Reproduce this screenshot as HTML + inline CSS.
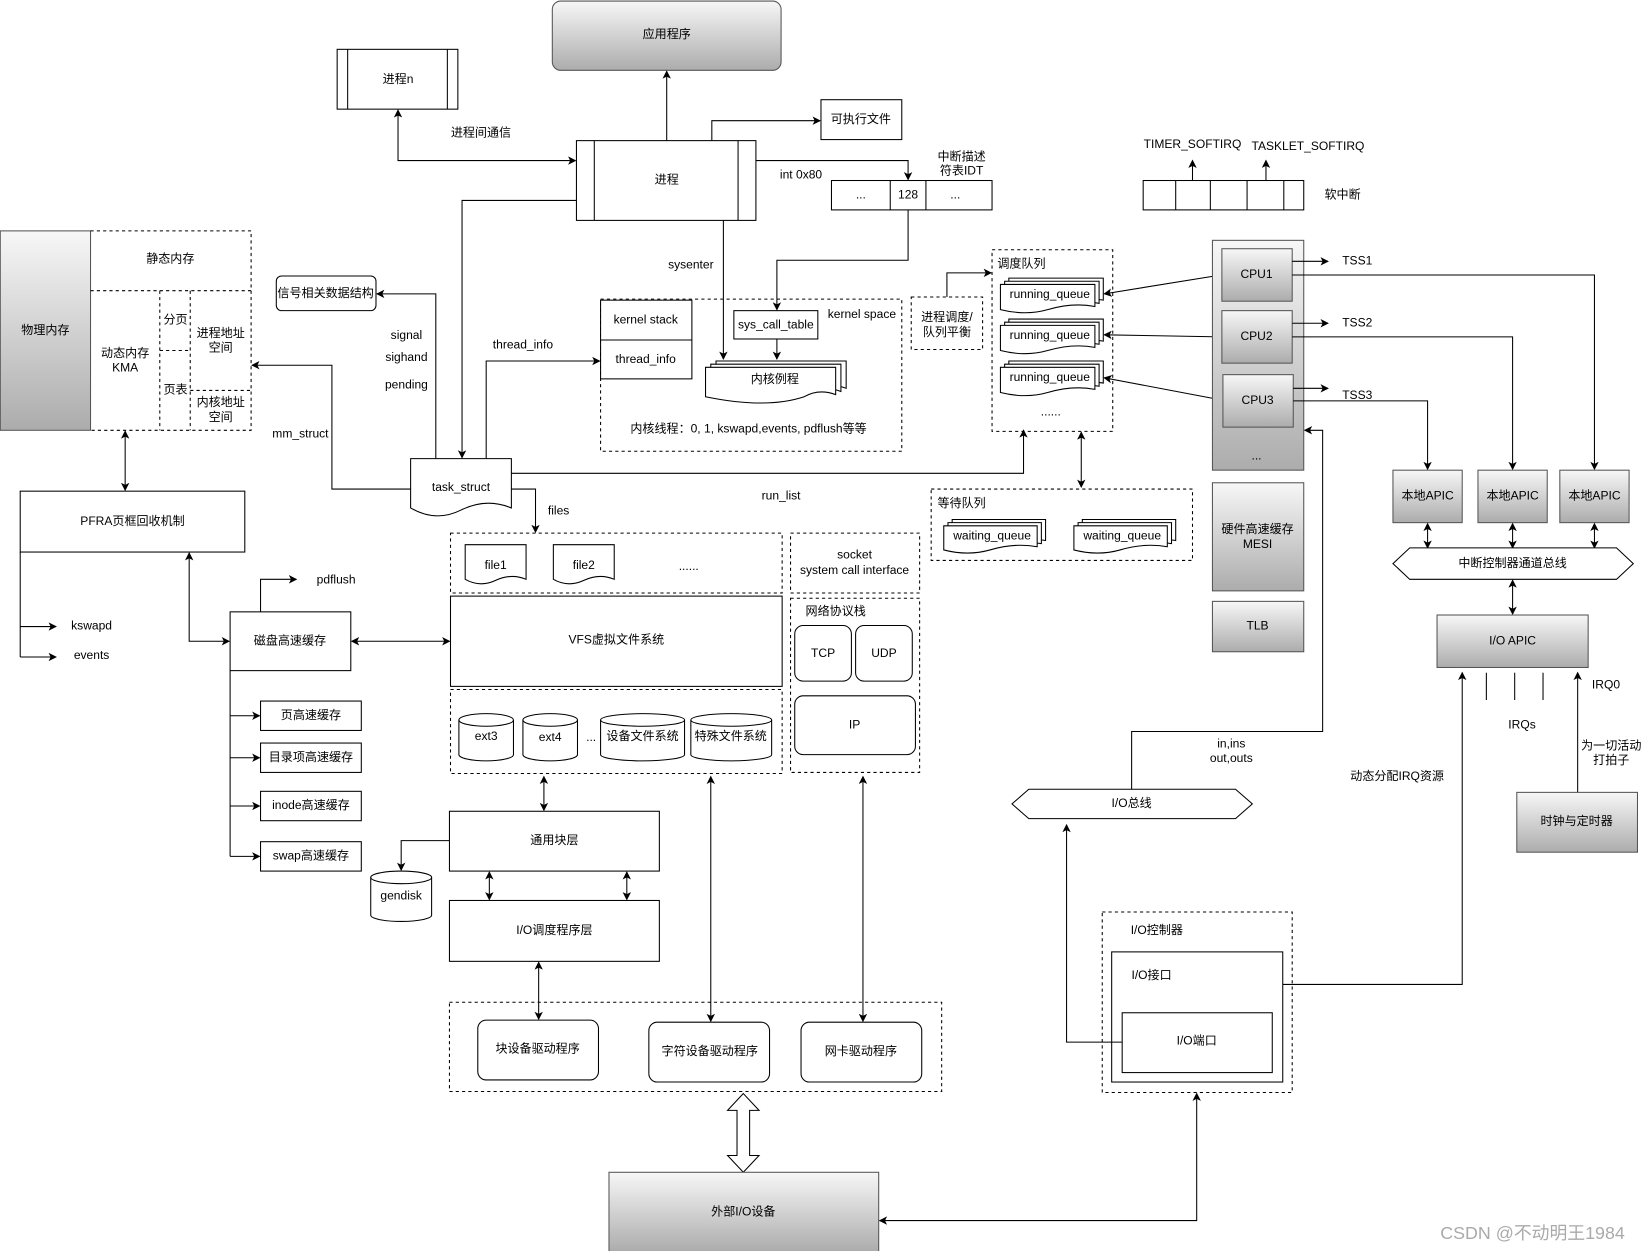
<!DOCTYPE html>
<html><head><meta charset="utf-8"><style>
html,body{margin:0;padding:0;background:#fff;}
svg{display:block;}
text{font-family:"Liberation Sans","Noto Sans CJK SC",sans-serif;font-size:11.5px;fill:#000;text-anchor:middle;dominant-baseline:middle;}
.b{fill:#fff;stroke:#000;stroke-width:1;}
.g{fill:url(#gr);stroke:#555;stroke-width:1;}
.d{fill:none;stroke:#000;stroke-width:1;stroke-dasharray:3 3;}
.l{fill:none;stroke:#000;stroke-width:1;}
.a{fill:none;stroke:#000;stroke-width:1;marker-end:url(#ar);}
.aa{fill:none;stroke:#000;stroke-width:1;marker-end:url(#ar);marker-start:url(#ar);}
</style></head><body>
<svg width="1643" height="1251" viewBox="0 0 1565 1192" xmlns="http://www.w3.org/2000/svg">
<defs>
<linearGradient id="gr" x1="0" y1="0" x2="0" y2="1"><stop offset="0" stop-color="#f7f7f7"/><stop offset="1" stop-color="#acacac"/></linearGradient>
<marker id="ar" markerWidth="8" markerHeight="8" refX="7" refY="4" orient="auto-start-reverse" markerUnits="userSpaceOnUse"><path d="M0,0 L8,4 L0,8 L2,4 Z" fill="#000"/></marker>
</defs>

<!-- top -->
<rect class="g" x="526" y="1" width="218" height="66" rx="8"/><text x="635" y="33">应用程序</text>
<rect class="b" x="321" y="47" width="115" height="57"/><line class="l" x1="331" y1="47" x2="331" y2="104"/><line class="l" x1="426" y1="47" x2="426" y2="104"/><text x="379" y="76">进程n</text>
<rect class="b" x="549" y="134" width="171" height="76"/><line class="l" x1="566" y1="134" x2="566" y2="210"/><line class="l" x1="703" y1="134" x2="703" y2="210"/><text x="635" y="172">进程</text>
<path class="a" d="M635,134 V68"/>
<rect class="b" x="782" y="95" width="77" height="38"/><text x="820" y="114">可执行文件</text>
<path class="a" d="M678,134 V115 H781"/>
<text x="458" y="127">进程间通信</text>
<path class="aa" d="M379,105 V153 H548"/>
<text x="763" y="167">int 0x80</text>
<path class="a" d="M720,153 H865 V171"/>
<text x="916" y="150">中断描述</text><text x="916" y="163">符表IDT</text>
<rect class="b" x="792" y="172" width="153" height="28"/><line class="l" x1="848" y1="172" x2="848" y2="200"/><line class="l" x1="882" y1="172" x2="882" y2="200"/>
<text x="820" y="186">...</text><text x="865" y="186">128</text><text x="910" y="186">...</text>
<path class="a" d="M865,200 V248 H740 V295"/>
<text x="658" y="253">sysenter</text>
<path class="a" d="M689,210 V342"/>

<!-- kernel space -->
<path class="d" d="M572,285 H859 V430 H572 Z"/>
<rect class="b" x="572" y="286" width="87" height="75"/><line class="l" x1="572" y1="324" x2="659" y2="324"/>
<text x="615" y="305">kernel stack</text><text x="615" y="343">thread_info</text>
<rect class="b" x="699" y="296" width="80" height="27"/><text x="739" y="310">sys_call_table</text>
<text x="821" y="300">kernel space</text>
<path class="a" d="M740,323 V342"/>
<g class="b">
<path class="b" d="M682,344 H806 V370 Q790,364 776,372 Q740,384 682,372 Z"/>
<path class="b" d="M677,347 H801 V373 Q785,367 771,375 Q735,387 677,375 Z"/>
<path class="b" d="M672,350 H796 V376 Q780,370 766,378 Q730,390 672,378 Z"/>
</g>
<text x="738" y="362">内核例程</text>
<text x="713" y="409">内核线程：0, 1, kswapd,events, pdflush等等</text>

<!-- signals / task_struct -->
<rect class="b" x="263" y="263" width="95" height="33" rx="5"/><text x="310" y="280">信号相关数据结构</text>
<text x="387" y="320">signal</text><text x="387" y="341">sighand</text><text x="387" y="367">pending</text>
<text x="286" y="414">mm_struct</text><text x="498" y="329">thread_info</text>
<path class="b" d="M391,437 H487 V484 Q463,474 439,486 Q415,498 391,484 Z"/>
<text x="439" y="465">task_struct</text>
<path class="a" d="M415,437 V280 H359"/>
<path class="a" d="M549,191 H440 V436"/>
<path class="a" d="M463,437 V344 H571"/>
<path class="a" d="M391,466 H316 V348 H240"/>
<path class="a" d="M487,451 H975 V410"/>
<text x="744" y="473">run_list</text>
<path class="a" d="M487,466 H510 V507"/>
<text x="532" y="487">files</text>

<!-- physical memory -->
<rect x="0" y="220" width="86" height="190" fill="url(#gr)" stroke="#555"/>
<text x="43" y="315">物理内存</text>
<path class="d" d="M86,220 H239 V410 H86"/>
<line class="d" x1="86" y1="277" x2="239" y2="277"/>
<text x="162" y="247">静态内存</text>
<text x="119" y="337">动态内存</text><text x="119" y="351">KMA</text>
<line class="d" x1="152" y1="277" x2="152" y2="410"/>
<line class="d" x1="181" y1="277" x2="181" y2="410"/>
<line class="d" x1="152" y1="334" x2="181" y2="334"/>
<text x="167" y="305">分页</text><text x="167" y="372">页表</text>
<line class="d" x1="181" y1="372" x2="239" y2="372"/>
<text x="210" y="318">进程地址</text><text x="210" y="332">空间</text>
<text x="210" y="384">内核地址</text><text x="210" y="398">空间</text>
<path class="aa" d="M119,411 V467"/>
<rect class="b" x="19" y="468" width="214" height="58"/><text x="126" y="497">PFRA页框回收机制</text>
<path class="l" d="M19,526 V626"/>
<path class="a" d="M19,597 H53"/><path class="a" d="M19,626 H53"/>
<text x="87" y="597">kswapd</text><text x="87" y="625">events</text>

<!-- disk cache -->
<rect class="b" x="219" y="583" width="115" height="56"/><text x="276" y="611">磁盘高速缓存</text>
<path class="a" d="M248,583 V552 H282"/><text x="320" y="553">pdflush</text>
<path class="aa" d="M180,527 V611 H218"/>
<path class="aa" d="M335,611 H428"/>
<path class="l" d="M219,639 V816"/>
<path class="a" d="M219,682 H247"/><path class="a" d="M219,722 H247"/><path class="a" d="M219,768 H247"/><path class="a" d="M219,816 H247"/>
<rect class="b" x="248" y="668" width="96" height="28"/><text x="296" y="682">页高速缓存</text>
<rect class="b" x="248" y="708" width="96" height="28"/><text x="296" y="722">目录项高速缓存</text>
<rect class="b" x="248" y="754" width="96" height="28"/><text x="296" y="768">inode高速缓存</text>
<rect class="b" x="248" y="802" width="96" height="28"/><text x="296" y="816">swap高速缓存</text>

<!-- files / vfs -->
<path class="d" d="M429,508 H745 V565 H429 Z"/>
<path class="b" d="M443,519 H501 V552 Q487,546 472,553 Q457,560 443,552 Z"/><text x="472" y="539">file1</text>
<path class="b" d="M527,519 H585 V552 Q571,546 556,553 Q541,560 527,552 Z"/><text x="556" y="539">file2</text>
<text x="656" y="540">......</text>
<rect class="b" x="429" y="568" width="316" height="86"/><text x="587" y="610">VFS虚拟文件系统</text>
<path class="d" d="M429,657 H745 V737 H429 Z"/>
<g>
<path class="b" d="M437,686 A26,6 0 0 1 489,686 V719 A26,6 0 0 1 437,719 Z"/><path class="l" d="M437,686 A26,6 0 0 0 489,686"/>
<path class="b" d="M498,686 A26,6 0 0 1 550,686 V719 A26,6 0 0 1 498,719 Z"/><path class="l" d="M498,686 A26,6 0 0 0 550,686"/>
<path class="b" d="M572,686 A40,6 0 0 1 652,686 V719 A40,6 0 0 1 572,719 Z"/><path class="l" d="M572,686 A40,6 0 0 0 652,686"/>
<path class="b" d="M658,686 A38.5,6 0 0 1 735,686 V719 A38.5,6 0 0 1 658,719 Z"/><path class="l" d="M658,686 A38.5,6 0 0 0 735,686"/>
</g>
<text x="463" y="702">ext3</text><text x="524" y="703">ext4</text><text x="563" y="703">...</text>
<text x="612" y="702">设备文件系统</text><text x="696" y="702">特殊文件系统</text>
<path class="d" d="M753,508 H876 V565 H753 Z"/>
<text x="814" y="529">socket</text><text x="814" y="544">system call interface</text>
<path class="d" d="M753,570 H876 V736 H753 Z"/>
<text x="796" y="583">网络协议栈</text>
<rect class="b" x="757" y="596" width="54" height="53" rx="8"/><text x="784" y="623">TCP</text>
<rect class="b" x="815" y="596" width="54" height="53" rx="8"/><text x="842" y="623">UDP</text>
<rect class="b" x="757" y="663" width="115" height="56" rx="8"/><text x="814" y="691">IP</text>

<!-- block layers -->
<path class="aa" d="M518,740 V772"/>
<rect class="b" x="428" y="773" width="200" height="57"/><text x="528" y="801">通用块层</text>
<path class="b" d="M353,836 A29,6 0 0 1 411,836 V872 A29,6 0 0 1 353,872 Z"/><path class="l" d="M353,836 A29,6 0 0 0 411,836"/>
<text x="382" y="854">gendisk</text>
<path class="a" d="M428,801 H382 V829"/>
<path class="aa" d="M466,831 V857"/><path class="aa" d="M597,831 V857"/>
<rect class="b" x="428" y="858" width="200" height="58"/><text x="528" y="887">I/O调度程序层</text>
<path class="aa" d="M513,917 V971"/>
<path class="d" d="M428,955 H897 V1040 H428 Z"/>
<rect class="b" x="455" y="972" width="115" height="57" rx="8"/><text x="512" y="1000">块设备驱动程序</text>
<rect class="b" x="618" y="974" width="115" height="57" rx="8"/><text x="676" y="1002">字符设备驱动程序</text>
<rect class="b" x="763" y="974" width="115" height="57" rx="8"/><text x="820" y="1002">网卡驱动程序</text>
<path class="aa" d="M677,740 V973"/><path class="aa" d="M822,740 V973"/>
<path class="b" d="M708,1042 L723,1058 H714 V1101 H723 L708,1117 L693,1101 H702 V1058 H693 Z"/>
<rect class="g" x="580" y="1117" width="257" height="76"/><text x="708" y="1155">外部I/O设备</text>
<path class="aa" d="M1140,1042 V1163 H838"/>

<!-- IO controller -->
<path class="d" d="M1050,869 H1231 V1041 H1050 Z"/>
<text x="1102" y="887">I/O控制器</text>
<rect class="b" x="1059" y="907" width="163" height="124"/><text x="1097" y="930">I/O接口</text>
<rect class="b" x="1069" y="965" width="143" height="57"/><text x="1140" y="992">I/O端口</text>
<path class="a" d="M1069,993 H1016 V786"/>
<path class="b" d="M964,766 L980,752 H1177 L1193,766 L1177,780 H980 Z"/><text x="1078" y="766">I/O总线</text>
<path class="a" d="M1078,752 V697 H1260 V410 H1243"/>
<text x="1173" y="709">in,ins</text><text x="1173" y="723">out,outs</text>
<path class="a" d="M1222,938 H1393 V641"/>

<!-- scheduling -->
<path class="d" d="M945,238 H1060 V411 H945 Z"/>
<text x="973" y="252">调度队列</text>
<g>
<path class="b" d="M961,265 H1051 V286 Q1030,282 1006,289 Q985,295 961,289 Z"/>
<path class="b" d="M957,268 H1047 V289 Q1026,285 1002,292 Q981,298 957,292 Z"/>
<path class="b" d="M953,271 H1043 V292 Q1022,288 998,295 Q977,301 953,295 Z"/>
<path class="b" d="M961,304 H1051 V325 Q1030,321 1006,328 Q985,334 961,328 Z"/>
<path class="b" d="M957,307 H1047 V328 Q1026,324 1002,331 Q981,337 957,331 Z"/>
<path class="b" d="M953,310 H1043 V331 Q1022,327 998,334 Q977,340 953,334 Z"/>
<path class="b" d="M961,344 H1051 V365 Q1030,361 1006,368 Q985,374 961,368 Z"/>
<path class="b" d="M957,347 H1047 V368 Q1026,364 1002,371 Q981,377 957,371 Z"/>
<path class="b" d="M953,350 H1043 V371 Q1022,367 998,374 Q977,380 953,374 Z"/>
</g>
<text x="1000" y="281">running_queue</text><text x="1000" y="320">running_queue</text><text x="1000" y="360">running_queue</text>
<text x="1001" y="393">......</text>
<path class="aa" d="M1052,280 L1163,262"/><path class="aa" d="M1052,319 L1163,321"/><path class="aa" d="M1052,360 L1163,381"/>
<path class="d" d="M868,283 H936 V333 H868 Z"/>
<text x="902" y="303">进程调度/</text><text x="902" y="317">队列平衡</text>
<path class="a" d="M902,283 V260 H944"/>
<path class="aa" d="M1030,412 V464"/>
<path class="d" d="M887,466 H1136 V534 H887 Z"/>
<text x="916" y="480">等待队列</text>
<g>
<path class="b" d="M907,495 H996 V515 Q975,511 951,518 Q930,524 907,518 Z"/>
<path class="b" d="M903,498 H992 V518 Q971,514 947,521 Q926,527 903,521 Z"/>
<path class="b" d="M899,501 H988 V521 Q967,517 943,524 Q922,530 899,524 Z"/>
<path class="b" d="M1031,495 H1120 V515 Q1099,511 1075,518 Q1054,524 1031,518 Z"/>
<path class="b" d="M1027,498 H1116 V518 Q1095,514 1071,521 Q1050,527 1027,521 Z"/>
<path class="b" d="M1023,501 H1112 V521 Q1091,517 1067,524 Q1046,530 1023,524 Z"/>
</g>
<text x="945" y="511">waiting_queue</text><text x="1069" y="511">waiting_queue</text>

<!-- CPUs -->
<rect class="g" x="1155" y="229" width="87" height="219"/>
<rect class="g" x="1164" y="237" width="67" height="50"/><text x="1197" y="262">CPU1</text>
<rect class="g" x="1164" y="296" width="67" height="50"/><text x="1197" y="321">CPU2</text>
<rect class="g" x="1165" y="357" width="67" height="50"/><text x="1198" y="382">CPU3</text>
<text x="1197" y="435">...</text>
<path class="a" d="M1231,249 H1265"/><text x="1293" y="249">TSS1</text>
<path class="a" d="M1231,308 H1265"/><text x="1293" y="308">TSS2</text>
<path class="a" d="M1232,370 H1265"/><text x="1293" y="377">TSS3</text>
<path class="a" d="M1231,262 H1519 V447"/>
<path class="a" d="M1231,321 H1441 V447"/>
<path class="a" d="M1232,382 H1360 V447"/>
<rect class="g" x="1327" y="448" width="66" height="50"/><text x="1360" y="473">本地APIC</text>
<rect class="g" x="1408" y="448" width="66" height="50"/><text x="1441" y="473">本地APIC</text>
<rect class="g" x="1486" y="448" width="66" height="50"/><text x="1519" y="473">本地APIC</text>
<path class="aa" d="M1360,499 V522"/><path class="aa" d="M1441,499 V522"/><path class="aa" d="M1519,499 V522"/>
<path class="b" d="M1327,537 L1343,522 H1540 L1556,537 L1540,552 H1343 Z"/><text x="1441" y="537">中断控制器通道总线</text>
<path class="aa" d="M1441,553 V585"/>
<rect class="g" x="1369" y="586" width="144" height="50"/><text x="1441" y="611">I/O APIC</text>
<line class="l" x1="1416" y1="641" x2="1416" y2="667"/><line class="l" x1="1443" y1="641" x2="1443" y2="667"/><line class="l" x1="1470" y1="641" x2="1470" y2="667"/>
<text x="1450" y="691">IRQs</text><text x="1530" y="653">IRQ0</text>
<path class="a" d="M1503,755 V641"/>
<text x="1535" y="711">为一切活动</text><text x="1535" y="725">打拍子</text>
<text x="1331" y="740">动态分配IRQ资源</text>
<rect class="g" x="1445" y="755" width="115" height="57"/><text x="1502" y="783">时钟与定时器</text>
<rect class="g" x="1155" y="460" width="87" height="103"/><text x="1198" y="505">硬件高速缓存</text><text x="1198" y="519">MESI</text>
<rect class="g" x="1155" y="573" width="87" height="48"/><text x="1198" y="597">TLB</text>

<!-- softirq -->
<rect class="b" x="1089" y="172" width="153" height="28"/>
<line class="l" x1="1120" y1="172" x2="1120" y2="200"/><line class="l" x1="1153" y1="172" x2="1153" y2="200"/><line class="l" x1="1188" y1="172" x2="1188" y2="200"/><line class="l" x1="1223" y1="172" x2="1223" y2="200"/>
<path class="a" d="M1136,172 V153"/><path class="a" d="M1206,172 V153"/>
<text x="1136" y="138">TIMER_SOFTIRQ</text><text x="1246" y="140">TASKLET_SOFTIRQ</text>
<text x="1279" y="186">软中断</text>

<text x="1460" y="1176" style="font-size:17px;fill:#aaa">CSDN @不动明王1984</text>
</svg>
</body></html>
